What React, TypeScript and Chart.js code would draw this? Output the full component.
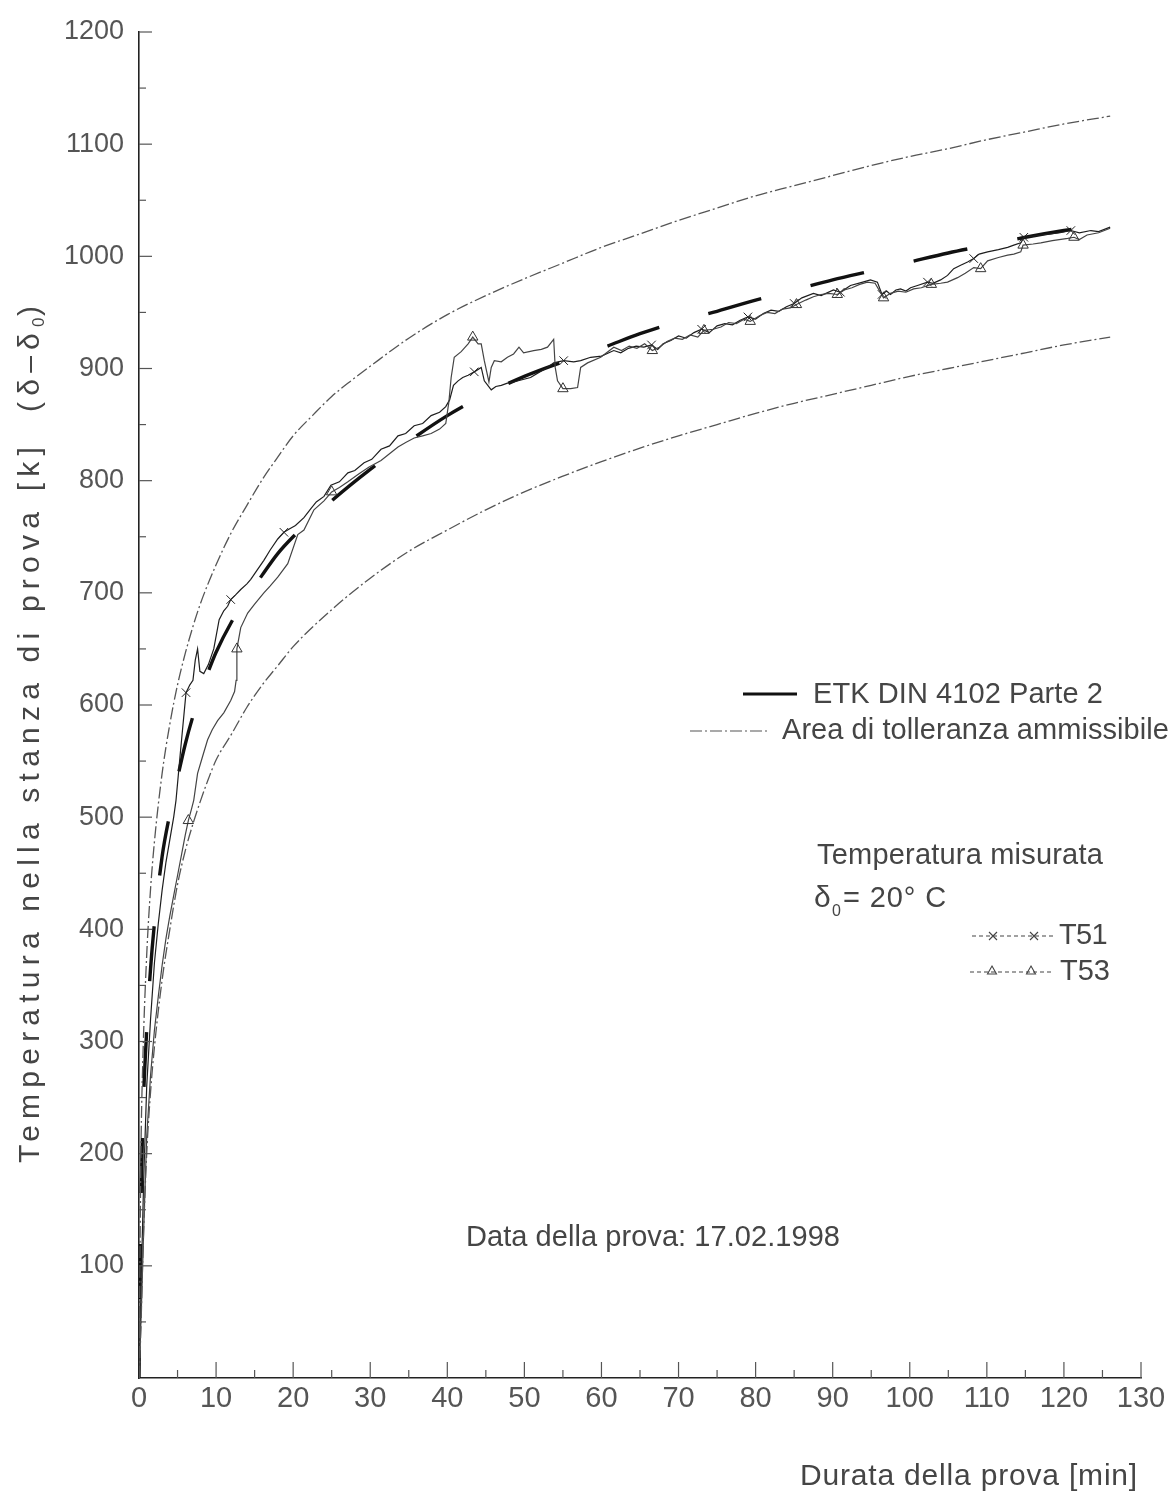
import { useEffect, useRef } from 'react';
import { Chart, registerables } from 'chart.js';

Chart.register(...registerables);

// ---- axes ----
const X_MIN = 0;
const X_MAX = 130;
const X_STEP = 10;
const X_MINOR = 5;
const Y_MIN = 0;
const Y_MAX = 1200;
const Y_STEP = 100;
const Y_MINOR = 50;

// ---- ETK DIN 4102 Parte 2 ----
const etkTime = [0, 0.25, 0.5, 1, 1.5, 2, 3, 4, 5, 6, 7, 8, 9, 10, 12, 14, 16, 18, 20, 25, 30, 35, 40, 45, 50, 55, 60, 65, 70, 75, 80, 85, 90, 95, 100, 105, 110, 115, 120, 125];
const etkTemp = [0, 150, 230, 310, 365, 405, 465, 503, 535, 565, 590, 611, 630, 647, 674, 696, 716, 735, 750, 782, 810, 835, 858, 877, 893, 906, 918, 931, 942, 951, 961, 970, 979, 987, 995, 1003, 1010, 1017, 1023, 1028];

// ---- tolerance band ----
const upperTime = [0, 0.25, 0.5, 1, 1.5, 2, 3, 4, 5, 6, 7, 8, 10, 12, 14, 16, 18, 20, 22.5, 25, 27.5, 30, 35, 40, 45, 50, 55, 60, 65, 70, 75, 80, 85, 90, 95, 100, 105, 110, 115, 120, 126];
const upperTemp = [0, 200, 284, 377, 436, 478, 539, 583, 618, 646, 670, 691, 725, 754, 778, 801, 821, 840, 858, 875, 889, 902, 927, 948, 965, 980, 994, 1008, 1020, 1032, 1043, 1054, 1063, 1072, 1081, 1089, 1096, 1104, 1111, 1118, 1125];
const lowerTime = [0, 0.25, 0.5, 1, 1.5, 2, 3, 4, 5, 6, 7, 8, 9, 10, 12, 14, 16, 18, 20, 25, 30, 35, 40, 45, 50, 55, 60, 65, 70, 75, 80, 85, 90, 95, 100, 105, 110, 115, 120, 126];
const lowerTemp = [0, 45, 110, 200, 255, 295, 355, 400, 440, 470, 494, 515, 534, 551, 574, 598, 618, 635, 652, 685, 713, 737, 756, 774, 790, 804, 817, 829, 840, 850, 860, 869, 877, 885, 893, 900, 907, 914, 921, 928];

// ---- measured T51 ----
const t51Time = [
  0, 0.3, 0.6, 1, 1.5, 2, 2.5, 3, 3.5, 4,
  4.5, 4.8, 5.4, 6.1, 6.6, 7.0, 7.3, 7.6, 7.9, 8.4,
  9.0, 9.7, 10.4, 11.0, 11.5, 11.9, 12.5, 13.2, 14.0, 14.5,
  15.3, 16.2, 17.0, 18.0, 18.8, 19.5, 20.3, 21.4, 22.3, 23.0,
  24.0, 24.9, 26.0, 27.1, 28.0, 29.2, 30.2, 31.4, 32.5, 33.6,
  34.6, 35.7, 36.8, 37.9, 39.0, 39.8, 40.3, 40.8, 41.4, 42.0,
  42.7, 43.5, 44.4, 44.8, 45.7, 46.3, 47.0, 47.8, 48.6, 49.7,
  50.8, 52.0, 53.0, 53.8, 55.1, 56.4, 57.3, 58.6, 60.0, 61.6,
  62.5, 63.5, 64.5, 65.5, 66.5, 67.3, 68.0, 69.0, 70.0, 71.0,
  72.0, 73.0, 74.0, 75.0, 76.0, 77.0, 78.0, 79.0, 80.0, 81.0,
  82.0, 83.0, 84.0, 85.0, 86.0, 87.5, 88.5, 90.1, 91.0, 92.3,
  93.9, 94.9, 95.8, 96.4, 97.0, 97.5, 98.2, 98.8, 99.5, 100.1,
  101.0, 102.3, 103.0, 104.0, 104.9, 105.7, 106.6, 107.5, 108.3, 109.0,
  110.1, 111.5, 112.7, 113.5, 114.4, 114.8, 116.0, 117.0, 118.3, 119.5,
  120.9, 122.0, 123.5, 124.5, 126.0,
];
const t51Temp = [
  0, 90, 175, 260, 320, 370, 405, 435, 460, 480,
  500, 515, 560, 611, 618, 622, 640, 650, 630, 628,
  636, 650, 676, 684, 688, 694, 698, 703, 708, 712,
  720, 729, 738, 748, 754, 757, 760, 767, 775, 781,
  786, 796, 799, 807, 809, 816, 819, 828, 831, 840,
  842, 849, 851, 858, 861, 866, 872, 885, 889, 892,
  894, 897, 901, 889, 881, 884, 885, 887, 888, 890,
  892, 897, 901, 905, 907, 906, 907, 910, 911, 916,
  914, 918, 920, 919, 921, 917, 922, 925, 929, 927,
  932, 935, 932, 938, 940, 939, 943, 946, 944, 949,
  952, 951, 955, 958, 963, 967, 965, 970, 968, 974,
  977, 979, 977, 966, 969, 966, 970, 971, 969, 972,
  974, 977, 976, 979, 983, 989, 992, 995, 998, 1002,
  1004, 1006, 1008, 1010, 1012, 1017, 1018, 1019, 1020, 1021,
  1023, 1021, 1023, 1022, 1026,
];
const t51Marks = [6.1, 11.9, 18.8, 43.5, 55.1, 66.5, 73.0, 79.0, 85.0, 91.0, 96.4, 102.3, 108.3, 114.8, 120.9];

// ---- measured T53 ----
const t53Time = [
  0, 0.3, 0.6, 1, 1.5, 2, 2.5, 3, 3.5, 4,
  4.5, 5.0, 5.5, 6.0, 6.4, 6.8, 7.1, 7.6, 8.2, 8.9,
  9.5, 10.2, 11.0, 11.9, 12.4, 12.6, 12.7, 13.2, 14.1, 15.0,
  16.2, 17.0, 18.0, 19.3, 20.6, 21.4, 22.7, 24.0, 25.0, 26.0,
  27.1, 28.5, 29.8, 31.4, 32.5, 33.6, 34.6, 35.7, 36.8, 37.9,
  39.0, 39.8, 40.2, 40.5, 40.9, 41.8, 42.7, 43.3, 44.0, 44.4,
  44.8, 45.4, 45.7, 46.1, 47.0, 47.8, 48.6, 49.3, 49.9, 51.2,
  52.2, 53.0, 53.8, 54.0, 54.3, 55.0, 56.0, 56.9, 57.3, 58.2,
  59.9, 61.6, 62.6, 63.6, 64.6, 65.6, 66.6, 67.5, 68.5, 69.5,
  70.5, 71.5, 72.5, 73.3, 74.5, 75.5, 76.5, 77.5, 78.5, 79.3,
  80.5, 81.5, 82.5, 83.5, 84.5, 85.3, 86.5, 87.5, 88.5, 89.5,
  90.6, 91.5, 92.5, 93.5, 94.5, 95.5, 96.6, 97.5, 98.5, 99.5,
  100.5, 101.5, 102.8, 104.0, 104.9, 106.2, 107.2, 108.3, 109.2, 110.1,
  111.5, 112.7, 113.5, 114.4, 114.7, 116.0, 117.0, 118.5, 120.5, 121.3,
  122.0, 123.0, 124.5, 126.0,
];
const t53Temp = [
  0, 60, 130, 215, 270, 310, 340, 368, 392, 412,
  430, 448, 466, 484, 497, 507, 515, 539, 553, 569,
  578, 586, 593, 604, 612, 622, 650, 669, 682, 690,
  700, 706, 714, 726, 752, 756, 774, 782, 790, 794,
  799, 806, 812, 818, 824, 830, 834, 838, 840, 842,
  846, 851, 870, 892, 910, 915, 922, 928, 922, 922,
  907, 888, 901, 907, 906, 910, 913, 919, 914, 916,
  917, 919, 926, 901, 889, 882, 882, 883, 901, 905,
  910, 919, 916, 920, 918, 922, 916, 919, 924, 927,
  926, 930, 928, 934, 935, 937, 941, 940, 944, 942,
  947, 950, 949, 953, 954, 957, 961, 964, 966, 967,
  966, 970, 972, 975, 977, 976, 963, 967, 969, 968,
  971, 972, 975, 976, 977, 981, 985, 990, 989, 996,
  999, 1001, 1002, 1004, 1010, 1011, 1012, 1014, 1016, 1017,
  1015, 1019, 1021, 1025,
];
const t53Marks = [6.4, 12.7, 25.0, 43.3, 55.0, 66.6, 73.3, 79.3, 85.3, 90.6, 96.6, 102.8, 109.2, 114.7, 121.3];

// ---- texts ----
const yTitleMain = 'Temperatura nella stanza di prova [k]  (δ–δ';
const xTitle = 'Durata della prova [min]';
const legendEtk = 'ETK DIN 4102 Parte 2';
const legendTol = 'Area di tolleranza ammissibile';
const noteMeasured = 'Temperatura misurata';
const noteT0 = '= 20° C';
const noteT51 = 'T51';
const noteT53 = 'T53';
const noteDate = 'Data della prova: 17.02.1998';

const FONT = '"Liberation Sans", Arial, Helvetica, sans-serif';
const TEXT_COLOR = '#454545';
const TOL_DASH = [12, 3, 2, 3];
const ETK_DASH = [55, 51];
const ETK_DASH_OFFSET = 27;

const pts = (ts: number[], vs: number[]) => ts.map((x, i) => ({ x, y: vs[i] }));

function fitText(ctx: CanvasRenderingContext2D, text: string, x: number, y: number, size: number, width: number, family = FONT) {
  ctx.font = `${size}px ${family}`;
  (ctx as any).letterSpacing = '0px';
  const w = ctx.measureText(text).width;
  const ls = (width - w) / Math.max(1, text.length);
  (ctx as any).letterSpacing = `${ls}px`;
  ctx.fillText(text, x, y);
  (ctx as any).letterSpacing = '0px';
}

function drawCross(ctx: CanvasRenderingContext2D, cx: number, cy: number, r: number) {
  ctx.beginPath();
  ctx.moveTo(cx - r, cy - r); ctx.lineTo(cx + r, cy + r);
  ctx.moveTo(cx + r, cy - r); ctx.lineTo(cx - r, cy + r);
  ctx.stroke();
}
function drawTri(ctx: CanvasRenderingContext2D, cx: number, cy: number, r: number) {
  ctx.beginPath();
  ctx.moveTo(cx, cy - r);
  ctx.lineTo(cx + r * 0.9, cy + r * 0.6);
  ctx.lineTo(cx - r * 0.9, cy + r * 0.6);
  ctx.closePath();
  ctx.stroke();
}

const decoPlugin = {
  id: 'deco',
  afterDraw(chart: any) {
    const { ctx, chartArea } = chart;
    const xs = chart.scales.x;
    const ys = chart.scales.y;
    ctx.save();
    // inner tick marks
    ctx.strokeStyle = '#555';
    ctx.lineWidth = 1.2;
    for (let v = Y_MIN + Y_MINOR; v <= Y_MAX; v += Y_MINOR) {
      const py = ys.getPixelForValue(v);
      const len = v % Y_STEP === 0 ? 13 : 7;
      ctx.beginPath();
      ctx.moveTo(chartArea.left, py);
      ctx.lineTo(chartArea.left + len, py);
      ctx.stroke();
    }
    for (let t = X_MIN + X_MINOR; t <= X_MAX; t += X_MINOR) {
      const px = xs.getPixelForValue(t);
      const len = t % X_STEP === 0 ? 16 : 8;
      ctx.beginPath();
      ctx.moveTo(px, chartArea.bottom);
      ctx.lineTo(px, chartArea.bottom - len);
      ctx.stroke();
    }

    ctx.fillStyle = TEXT_COLOR;
    ctx.textBaseline = 'middle';
    ctx.textAlign = 'left';

    // y title (rotated)
    ctx.save();
    ctx.translate(31, 1163);
    ctx.rotate(-Math.PI / 2);
    ctx.font = `30px ${FONT}`;
    const mainW = ctx.measureText(yTitleMain).width;
    const target = 836;
    const ls = (target - mainW) / yTitleMain.length;
    (ctx as any).letterSpacing = `${ls}px`;
    ctx.fillText(yTitleMain, 0, 0);
    (ctx as any).letterSpacing = '0px';
    ctx.font = `17px ${FONT}`;
    ctx.fillText('0', target, 8);
    ctx.font = `30px ${FONT}`;
    ctx.fillText(')', target + 11, 0);
    ctx.restore();

    // x title
    fitText(ctx, xTitle, 800, 1477, 30, 338);

    // legend: ETK
    ctx.strokeStyle = '#111';
    ctx.lineWidth = 3.2;
    ctx.setLineDash([]);
    ctx.beginPath(); ctx.moveTo(743, 694); ctx.lineTo(797, 694); ctx.stroke();
    fitText(ctx, legendEtk, 813, 695, 29, 290);

    // legend: tolerance
    ctx.strokeStyle = '#555';
    ctx.lineWidth = 1.2;
    ctx.setLineDash(TOL_DASH);
    ctx.beginPath(); ctx.moveTo(690, 731); ctx.lineTo(768, 731); ctx.stroke();
    ctx.setLineDash([]);
    fitText(ctx, legendTol, 782, 731, 29, 387);

    // measured notes
    fitText(ctx, noteMeasured, 817, 856, 29, 286);
    ctx.font = `30px ${FONT}`;
    ctx.fillText('δ', 814, 899);
    ctx.font = `16px ${FONT}`;
    ctx.fillText('0', 832, 912);
    fitText(ctx, noteT0, 843, 899, 29, 104);

    // T51 sample
    ctx.strokeStyle = '#444';
    ctx.lineWidth = 1.1;
    ctx.setLineDash([4, 3]);
    ctx.beginPath(); ctx.moveTo(972, 936); ctx.lineTo(1055, 936); ctx.stroke();
    ctx.setLineDash([]);
    drawCross(ctx, 993, 936, 4);
    drawCross(ctx, 1034, 936, 4);
    fitText(ctx, noteT51, 1059, 936, 29, 48);

    // T53 sample
    ctx.setLineDash([4, 3]);
    ctx.beginPath(); ctx.moveTo(970, 972); ctx.lineTo(1052, 972); ctx.stroke();
    ctx.setLineDash([]);
    drawTri(ctx, 992, 971, 5);
    drawTri(ctx, 1031, 971, 5);
    fitText(ctx, noteT53, 1060, 972, 29, 50);

    // test date
    fitText(ctx, noteDate, 466, 1238, 29, 374);

    ctx.restore();
  },
};

export default function App() {
  const ref = useRef<HTMLCanvasElement | null>(null);
  useEffect(() => {
    if (!ref.current) return;
    const markRadius = (marks: number[], times: number[]) => (c: any) =>
      marks.includes(times[c.dataIndex]) ? 6 : 0;
    const chart = new Chart(ref.current, {
      type: 'line',
      data: {
        datasets: [
          {
            label: 'upper',
            data: pts(upperTime, upperTemp),
            borderColor: '#555',
            borderWidth: 1.3,
            borderDash: TOL_DASH,
            pointRadius: 0,
            cubicInterpolationMode: 'monotone',
            fill: false,
          },
          {
            label: 'lower',
            data: pts(lowerTime, lowerTemp),
            borderColor: '#555',
            borderWidth: 1.3,
            borderDash: TOL_DASH,
            pointRadius: 0,
            cubicInterpolationMode: 'monotone',
            fill: false,
          },
          {
            label: 'T53',
            data: pts(t53Time, t53Temp),
            borderColor: '#444',
            borderWidth: 1.2,
            tension: 0,
            pointStyle: 'triangle',
            pointRadius: markRadius(t53Marks, t53Time),
            pointBorderColor: '#333',
            pointBorderWidth: 1,
            pointBackgroundColor: 'rgba(255,255,255,0)',
            fill: false,
          },
          {
            label: 'T51',
            data: pts(t51Time, t51Temp),
            borderColor: '#1e1e1e',
            borderWidth: 1.2,
            tension: 0,
            pointStyle: 'crossRot',
            pointRadius: markRadius(t51Marks, t51Time),
            pointBorderColor: '#222',
            pointBorderWidth: 1,
            fill: false,
          },
          {
            label: 'ETK',
            data: pts(etkTime, etkTemp),
            borderColor: '#111',
            borderWidth: 3.4,
            borderDash: ETK_DASH,
            borderDashOffset: ETK_DASH_OFFSET,
            pointRadius: 0,
            cubicInterpolationMode: 'monotone',
            fill: false,
          },
        ],
      },
      options: {
        responsive: false,
        animation: false,
        devicePixelRatio: 1,
        layout: { padding: { top: 32, right: 33, left: 0, bottom: 0 } },
        plugins: { legend: { display: false }, tooltip: { enabled: false } },
        elements: { line: { borderCapStyle: 'butt' } },
        scales: {
          x: {
            type: 'linear',
            min: X_MIN,
            max: X_MAX,
            afterFit: (s: any) => { s.height = 114; },
            grid: { display: false },
            border: { display: true, color: '#222', width: 1.6 },
            ticks: {
              stepSize: X_STEP,
              autoSkip: false,
              maxRotation: 0,
              padding: -4,
              color: '#555',
              font: { family: FONT, size: 29 },
            },
          },
          y: {
            type: 'linear',
            min: Y_MIN,
            max: Y_MAX,
            afterFit: (s: any) => { s.width = 139; },
            grid: { display: false },
            border: { display: true, color: '#222', width: 1.6 },
            ticks: {
              stepSize: Y_STEP,
              autoSkip: false,
              padding: 7,
              color: '#555',
              font: { family: FONT, size: 27 },
              callback: (v: any) => (v === 0 ? '' : String(v)),
            },
          },
        },
      } as any,
      plugins: [decoPlugin],
    });
    return () => chart.destroy();
  }, []);
  return (
    <div style={{ position: 'absolute', left: 0, top: 0, width: 1174, height: 1492, background: '#fff' }}>
      <canvas ref={ref} width={1174} height={1492} style={{ display: 'block' }} />
    </div>
  );
}
